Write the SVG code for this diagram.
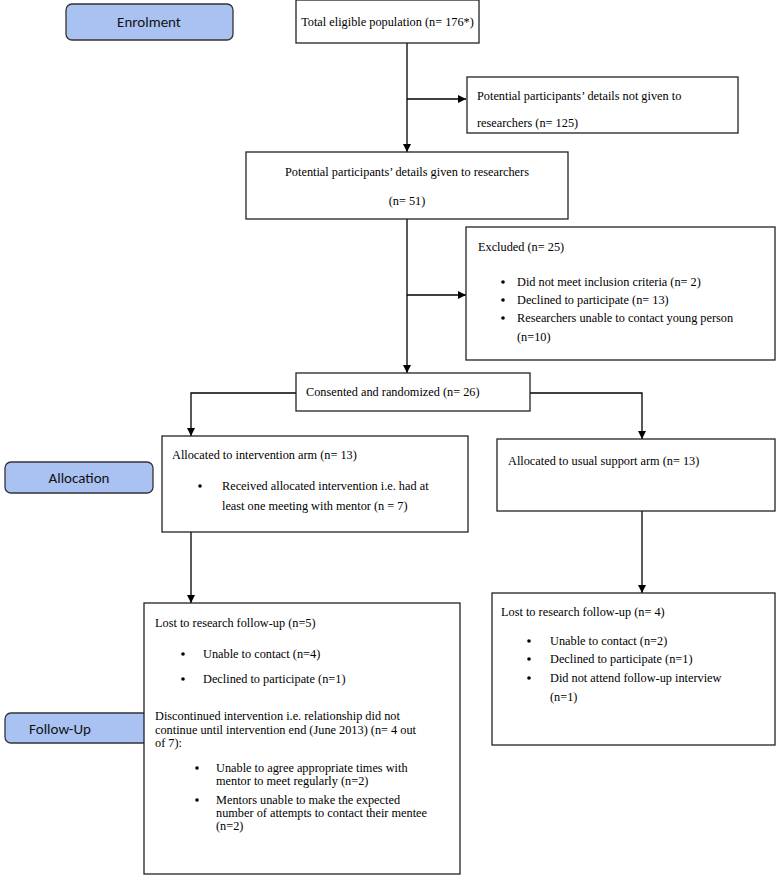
<svg xmlns="http://www.w3.org/2000/svg" width="779" height="875" viewBox="0 0 779 875">
<defs>
<style>
.box{fill:#fff;stroke:#222;stroke-width:1.3}
.tab{fill:#a9c2f2;stroke:#333;stroke-width:1.3}
.t{font-family:"Liberation Serif","Times New Roman",serif;font-size:12.3px;fill:#000}
.s{font-family:Carlito,"Open Sans","Liberation Sans",sans-serif;font-size:15px;fill:#111;text-anchor:middle}
.c{text-anchor:middle}
.ln{fill:none;stroke:#000;stroke-width:1.3}
</style>
<marker id="ah" viewBox="0 0 10 10" refX="10" refY="5" markerWidth="8" markerHeight="8" markerUnits="userSpaceOnUse" orient="auto">
<path d="M0,0 L10,5 L0,10 z" fill="#000"/>
</marker>
</defs>
<rect width="779" height="875" fill="#fff"/>

<g id="connectors">
<path class="ln" d="M407,43 V152" marker-end="url(#ah)"/>
<path class="ln" d="M407,99 H466" marker-end="url(#ah)"/>
<path class="ln" d="M407,219 V373" marker-end="url(#ah)"/>
<path class="ln" d="M407,295 H466" marker-end="url(#ah)"/>
<path class="ln" d="M296,393 H191 V436" marker-end="url(#ah)"/>
<path class="ln" d="M530,393 H642 V439" marker-end="url(#ah)"/>
<path class="ln" d="M191,532 V603" marker-end="url(#ah)"/>
<path class="ln" d="M642,511 V593" marker-end="url(#ah)"/>
</g>

<g id="tab-enrolment">
<rect class="tab" x="66" y="4" width="167" height="36" rx="6"/>
<text class="s" x="149" y="27">Enrolment</text>
</g>
<g id="tab-allocation">
<rect class="tab" x="5" y="462" width="148" height="31" rx="6"/>
<text class="s" x="79" y="483">Allocation</text>
</g>
<g id="tab-followup">
<rect class="tab" x="5" y="713" width="145" height="30" rx="6"/>
<text class="s" x="60" y="734">Follow-Up</text>
</g>

<g id="total">
<rect class="box" x="296" y="0" width="183" height="43"/>
<text class="t c" x="387.5" y="26">Total eligible population (n= 176*)</text>
</g>
<g id="not-given">
<rect class="box" x="467" y="77" width="271" height="56"/>
<text class="t" x="477" y="100">Potential participants’ details not given to</text>
<text class="t" x="477" y="127">researchers (n= 125)</text>
</g>
<g id="given">
<rect class="box" x="246" y="152" width="322" height="67"/>
<text class="t c" x="407" y="176">Potential participants’ details given to researchers</text>
<text class="t c" x="407" y="205">(n= 51)</text>
</g>
<g id="excluded">
<rect class="box" x="466" y="227" width="309" height="133"/>
<text class="t" x="478" y="251">Excluded (n= 25)</text>
<circle cx="503" cy="282" r="1.8"/>
<text class="t" x="517" y="286">Did not meet inclusion criteria (n= 2)</text>
<circle cx="503" cy="300" r="1.8"/>
<text class="t" x="517" y="304">Declined to participate (n= 13)</text>
<circle cx="503" cy="318" r="1.8"/>
<text class="t" x="517" y="322">Researchers unable to contact young person</text>
<text class="t" x="517" y="341">(n=10)</text>
</g>
<g id="randomized">
<rect class="box" x="296" y="373" width="234" height="38"/>
<text class="t" x="306" y="396">Consented and randomized (n= 26)</text>
</g>
<g id="intervention">
<rect class="box" x="162" y="436" width="306" height="96"/>
<text class="t" x="172" y="459">Allocated to intervention arm (n= 13)</text>
<circle cx="200" cy="486" r="1.8"/>
<text class="t" x="222" y="490">Received allocated intervention i.e. had at</text>
<text class="t" x="222" y="510">least one meeting with mentor (n = 7)</text>
</g>
<g id="usual">
<rect class="box" x="497" y="439" width="278" height="72"/>
<text class="t" x="508" y="465">Allocated to usual support arm (n= 13)</text>
</g>
<g id="lost-left">
<rect class="box" x="144" y="603" width="316" height="271"/>
<text class="t" x="155" y="627">Lost to research follow-up (n=5)</text>
<circle cx="183" cy="654" r="1.8"/>
<text class="t" x="203" y="658">Unable to contact (n=4)</text>
<circle cx="183" cy="679" r="1.8"/>
<text class="t" x="203" y="683">Declined to participate (n=1)</text>
<text class="t" x="155" y="720">Discontinued intervention i.e. relationship did not</text>
<text class="t" x="155" y="734">continue until intervention end (June 2013) (n= 4 out</text>
<text class="t" x="155" y="747">of 7):</text>
<circle cx="197" cy="768" r="1.8"/>
<text class="t" x="216" y="772">Unable to agree appropriate times with</text>
<text class="t" x="216" y="785">mentor to meet regularly (n=2)</text>
<circle cx="197" cy="800" r="1.8"/>
<text class="t" x="216" y="804">Mentors unable to make the expected</text>
<text class="t" x="216" y="817">number of attempts to contact their mentee</text>
<text class="t" x="216" y="830">(n=2)</text>
</g>
<g id="lost-right">
<rect class="box" x="492" y="593" width="283" height="152"/>
<text class="t" x="501" y="616">Lost to research follow-up (n= 4)</text>
<circle cx="529" cy="641" r="1.8"/>
<text class="t" x="550" y="645">Unable to contact (n=2)</text>
<circle cx="529" cy="659" r="1.8"/>
<text class="t" x="550" y="663">Declined to participate (n=1)</text>
<circle cx="529" cy="678" r="1.8"/>
<text class="t" x="550" y="682">Did not attend follow-up interview</text>
<text class="t" x="550" y="701">(n=1)</text>
</g>
</svg>
